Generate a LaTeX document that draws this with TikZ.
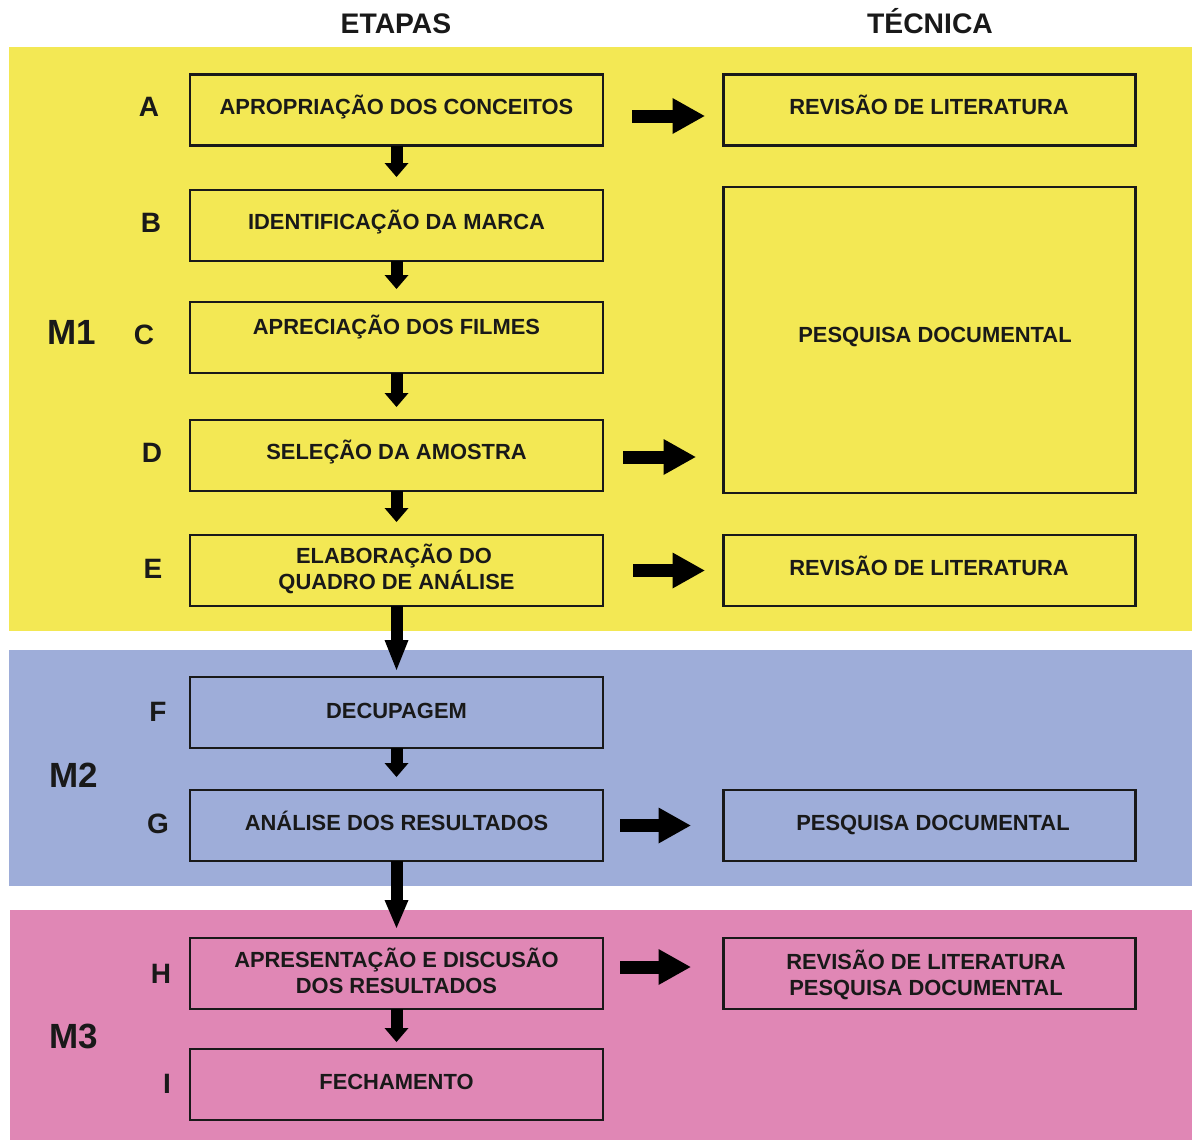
\documentclass[tikz,border=0pt]{standalone}
\usepackage{fontspec}
\setmainfont{Liberation Sans}
\usetikzlibrary{arrows.meta}
\definecolor{bandY}{RGB}{243,232,84}
\definecolor{bandB}{RGB}{158,173,217}
\definecolor{bandP}{RGB}{224,135,181}
\definecolor{ink}{RGB}{25,25,25}
\begin{document}
\begin{tikzpicture}[x=1pt,y=-1pt,
  stepbox/.style={draw=ink, line width=2.6pt, minimum width=413pt, minimum height=71pt, inner sep=0pt, outer sep=0pt},
  techbox/.style={stepbox, minimum width=412pt},
  txt/.style={anchor=base, inner sep=0pt, text=ink, font=\bfseries\fontsize{21.9}{25}\selectfont},
  lettr/.style={anchor=base, inner sep=0pt, text=ink, font=\bfseries\fontsize{28}{32}\selectfont},
  mlab/.style={anchor=base, inner sep=0pt, text=ink, font=\bfseries\fontsize{35}{40}\selectfont},
  head/.style={anchor=base, inner sep=0pt, text=ink, font=\bfseries\fontsize{28.3}{32}\selectfont},
  harrow/.style={draw=black, line width=13pt, -{Triangle[length=32pt,width=36pt,line width=0pt]}},
  darrow/.style={draw=black, line width=12pt, -{Triangle[length=14pt,width=24pt,line width=0pt]}, shorten >=13pt},
  bigdarrow/.style={draw=black, line width=12pt}
]
\useasboundingbox (0,0) rectangle (1192,1140);
% bands
\fill[bandY] (9,47) rectangle (1192,631);
\fill[bandB] (9,650) rectangle (1192,886);
\fill[bandP] (10,910) rectangle (1192,1140);

% headers
\node[head] (hE) at (396,34) {ETAPAS};
\node[head] (hT) at (930,34) {TÉCNICA};

% M labels
\node[mlab] (m1) at (72,344) {M1};
\node[mlab] (m2) at (74,787) {M2};
\node[mlab] (m3) at (74,1048) {M3};

% stage boxes
\node[stepbox] (A) at (396.5,110) {};
\node[stepbox] (B) at (396.5,225.5) {};
\node[stepbox] (C) at (396.5,337.5) {};
\node[stepbox] (D) at (396.5,455.5) {};
\node[stepbox] (E) at (396.5,570.5) {};
\node[stepbox] (F) at (396.5,712.5) {};
\node[stepbox] (G) at (396.5,825.5) {};
\node[stepbox] (H) at (396.5,973.5) {};
\node[stepbox] (I) at (396.5,1084.5) {};

% technique boxes
\node[techbox] (R1) at (929.5,110) {};
\node[techbox, minimum height=306pt] (R2) at (929.5,340) {};
\node[techbox] (R3) at (929.5,570.5) {};
\node[techbox] (R4) at (929.5,825.5) {};
\node[techbox] (R5) at (929.5,973.5) {};

% stage texts
\node[txt] (tA) at (396.5,114.5) {APROPRIAÇÃO DOS CONCEITOS};
\node[txt] (tB) at (396.5,229.5) {IDENTIFICAÇÃO DA MARCA};
\node[txt] (tC) at (396.5,334.5) {APRECIAÇÃO DOS FILMES};
\node[txt] (tD) at (396.5,459.5) {SELEÇÃO DA AMOSTRA};
\node[txt] (tE1) at (394,563) {ELABORAÇÃO DO};
\node[txt] (tE2) at (396.5,589.5) {QUADRO DE ANÁLISE};
\node[txt] (tF) at (396.5,718.5) {DECUPAGEM};
\node[txt] (tG) at (396.5,830.5) {ANÁLISE DOS RESULTADOS};
\node[txt] (tH1) at (396.5,967) {APRESENTAÇÃO E DISCUSÃO};
\node[txt] (tH2) at (396.5,993) {DOS RESULTADOS};
\node[txt] (tI) at (396.5,1089.5) {FECHAMENTO};

% technique texts
\node[txt] (tR1) at (929,114.5) {REVISÃO DE LITERATURA};
\node[txt] (tR2) at (935,342.5) {PESQUISA DOCUMENTAL};
\node[txt] (tR3) at (929,575.5) {REVISÃO DE LITERATURA};
\node[txt] (tR4) at (933,830.5) {PESQUISA DOCUMENTAL};
\node[txt] (tR51) at (926,969) {REVISÃO DE LITERATURA};
\node[txt] (tR52) at (926,995) {PESQUISA DOCUMENTAL};

% letters
\node[lettr] (lA) at (149,117) {A};
\node[lettr] (lB) at (151,232) {B};
\node[lettr] (lC) at (144,344) {C};
\node[lettr] (lD) at (152,462) {D};
\node[lettr] (lE) at (153,578) {E};
\node[lettr] (lF) at (158,721) {F};
\node[lettr] (lG) at (158,833) {G};
\node[lettr] (lH) at (161,983) {H};
\node[lettr] (lI) at (167,1093) {I};

% down arrows
\draw[darrow] (A.south) -- (B.north);
\draw[darrow] (B.south) -- (C.north);
\draw[darrow] (C.south) -- (D.north);
\draw[darrow] (D.south) -- (E.north);
\draw[bigdarrow, -{Triangle[length=30pt,width=24pt,line width=0pt]}, shorten >=7pt] (E.south) -- (F.north);
\draw[darrow] (F.south) -- (G.north);
\draw[bigdarrow, -{Triangle[length=28pt,width=24pt,line width=0pt]}, shorten >=10pt] (G.south) -- (H.north);
\draw[darrow, shorten >=7pt] (H.south) -- (I.north);

% right arrows
\draw[harrow] ([xshift=29pt,yshift=-6pt]A.east) -- ([xshift=-19pt,yshift=-6pt]R1.west);
\draw[harrow] ([xshift=20pt,yshift=-1.5pt]D.east) -- ([xshift=-28pt,yshift=-1.5pt]D.east -| R2.west);
\draw[harrow] ([xshift=30pt]E.east) -- ([xshift=-19pt]R3.west);
\draw[harrow] ([xshift=17pt]G.east) -- ([xshift=-33pt]R4.west);
\draw[harrow] ([xshift=17pt,yshift=6.5pt]H.east) -- ([xshift=-33pt,yshift=6.5pt]R5.west);
\end{tikzpicture}
\end{document}
